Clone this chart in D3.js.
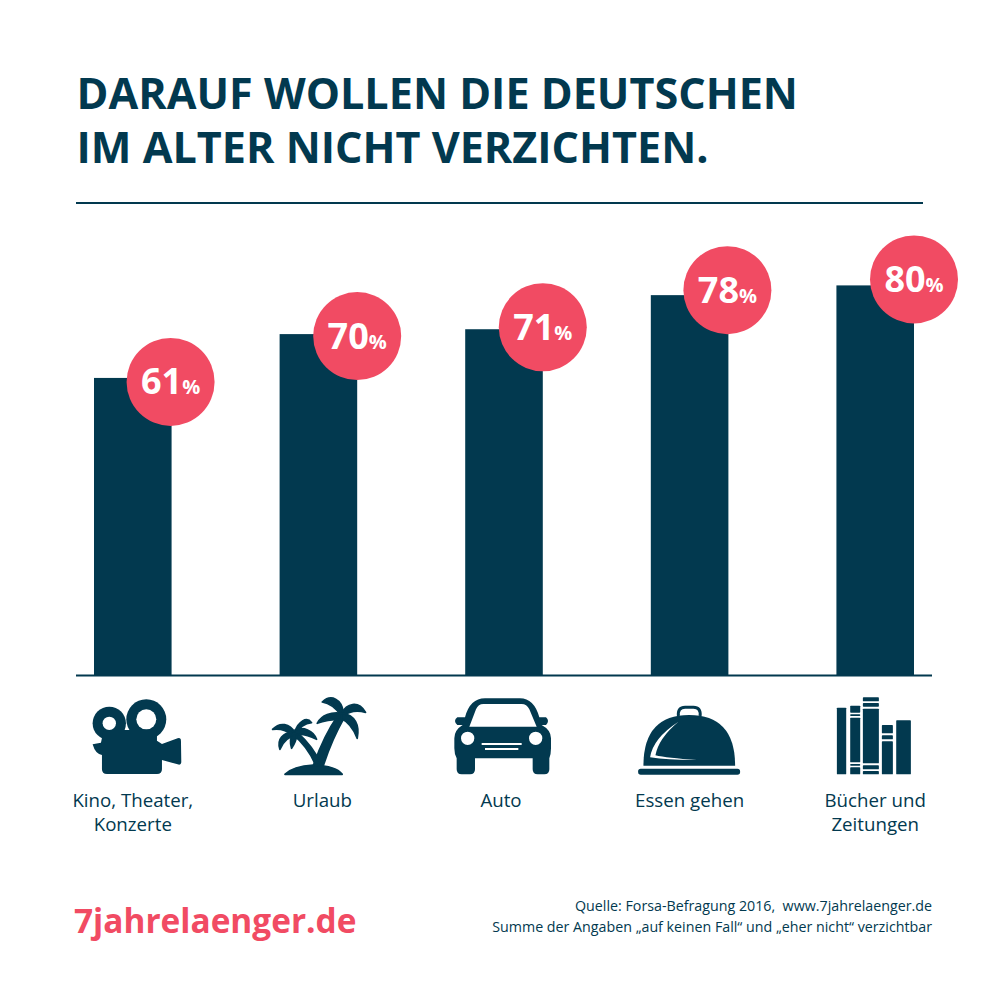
<!DOCTYPE html>
<html>
<head>
<meta charset="utf-8">
<script src="https://cdn.jsdelivr.net/npm/d3@7"></script>
<style>
  html, body { margin: 0; padding: 0; background: #fff; }
  svg { display: block; }
  text { font-family: "Open Sans", sans-serif; white-space: pre; }
</style>
</head>
<body>
<div id="chart"></div>
<script>
const categories = ["Kino, Theater, Konzerte", "Urlaub", "Auto", "Essen gehen", "Bücher und Zeitungen"]
const values = [61, 70, 71, 78, 80]
const labelLines = [["Kino, Theater,", "Konzerte"], ["Urlaub"], ["Auto"], ["Essen gehen"], ["Bücher und", "Zeitungen"]]
const titleLines = ["DARAUF WOLLEN DIE DEUTSCHEN", "IM ALTER NICHT VERZICHTEN."]
const sourceLines = ["Quelle: Forsa-Befragung 2016,  www.7jahrelaenger.de", "Summe der Angaben „auf keinen Fall“ und „eher nicht“ verzichtbar"]

const navy = "#02394f"
const red = "#f14b63"

const svg = d3.select("#chart").append("svg").attr("width", 1008).attr("height", 1008)

const x = d3.scaleBand().domain(categories).range([94, 914]).paddingInner(0.582).paddingOuter(0)
const y = d3.scaleLinear().domain([0, 100]).range([675, 188])

// title + rule
svg.selectAll(".title").data(titleLines).join("text")
    .attr("class", "title")
    .attr("x", 76.5)
    .attr("y", (d, i) => 109 + i * 54)
    .attr("font-size", 43.15)
    .attr("font-weight", 700)
    .attr("fill", navy)
    .text(d => d)
svg.append("rect").attr("x", 76).attr("y", 202).attr("width", 847).attr("height", 2).attr("fill", navy)

// bars
svg.selectAll(".bar").data(values).join("rect")
    .attr("class", "bar")
    .attr("x", (d, i) => x(categories[i]))
    .attr("y", d => y(d))
    .attr("width", x.bandwidth())
    .attr("height", d => y(0) - y(d))
    .attr("fill", navy)

svg.append("rect").attr("x", 76).attr("y", 674.5).attr("width", 856).attr("height", 2).attr("fill", navy)

// bubbles sit on the top right corner, a bit higher on the taller bars
const bubbleDx = [-1, 0, 0, -1, 0]
const bubbleDy = [4, 2, -2, -5, -6]
const bubble = svg.selectAll(".bubble").data(values).join("g")
    .attr("class", "bubble")
    .attr("transform", (d, i) => `translate(${x(categories[i]) + x.bandwidth() + bubbleDx[i]},${y(d) + bubbleDy[i]})`)
bubble.append("circle").attr("r", 44).attr("fill", red)
const bubbleText = bubble.append("text")
    .attr("text-anchor", "middle")
    .attr("y", 12.5)
    .attr("fill", "#fff")
    .attr("font-weight", 700)
bubbleText.append("tspan").attr("font-size", 36).text(d => d)
bubbleText.append("tspan").attr("font-size", 20).text("%")

// category labels
const labelDx = [0, 4, -3, 0, 0]
svg.selectAll(".label").data(labelLines).join("text")
    .attr("class", "label")
    .attr("text-anchor", "middle")
    .attr("font-size", 18.7)
    .attr("fill", navy)
    .each(function (lines, i) {
        d3.select(this).selectAll("tspan").data(lines).join("tspan")
            .attr("x", x(categories[i]) + x.bandwidth() / 2 + labelDx[i])
            .attr("y", (d, j) => 807 + j * 24)
            .text(d => d)
    })

// icons, traced at 3x so they are scaled down again here
const icon = (i, dx, dy) => svg.append("g")
    .attr("transform", `translate(${x(categories[i]) + x.bandwidth() / 2 + dx},${dy}) scale(${1 / 3})`)
    .attr("fill", navy)

// camera
const cam = icon(0, -72.5, 680)
cam.append("circle").attr("cx", 147).attr("cy", 130).attr("r", 50)
cam.append("circle").attr("cx", 258).attr("cy", 118).attr("r", 60)
cam.append("path").attr("d",
    "M97 193 L122 188 L130 150 L290 150 L290 182 L305 192 L352 175 Q362 172 362 183 L363 245 Q363 257 352 253 L305 240 L305 268 Q305 282 290 282 L140 282 Q125 282 125 268 L125 225 Q105 222 97 193 Z")
cam.append("circle").attr("cx", 147).attr("cy", 130).attr("r", 20).attr("fill", "#fff")
cam.append("circle").attr("cx", 258).attr("cy", 118).attr("r", 30).attr("fill", "#fff")

// palms
const palm = icon(1, -258.5, 680)
palm.selectAll("path").data([
    "M675 283 Q700 258 760 255 Q830 258 847 283 Z",
    "M760 258 Q790 170 835 105 L852 115 Q815 180 790 258 Z",
    "M768 258 Q745 200 695 160 L710 155 Q760 200 782 250 Z",
    "M842 105 C825 80 810 70 787 66 C815 40 845 60 850 95 Z",
    "M845 100 C860 70 895 60 917 97 C890 90 870 92 850 108 Z",
    "M848 100 C885 105 900 135 892 175 C880 145 865 125 842 115 Z",
    "M845 100 C815 95 785 105 772 130 C795 120 815 118 845 118 Z",
    "M705 155 C715 125 740 108 755 128 C735 130 720 140 712 160 Z",
    "M705 158 C690 130 660 125 638 148 C660 145 680 150 697 165 Z",
    "M705 150 C730 140 760 150 770 178 C745 165 725 160 705 165 Z",
    "M700 155 C670 160 650 175 660 208 C670 185 685 170 705 168 Z",
    "M700 160 C690 170 690 190 695 205 C705 190 710 175 712 162 Z"
]).join("path")
    .attr("d", d => d)
    .attr("stroke", navy).attr("stroke-width", 5).attr("stroke-linejoin", "round")

// car
const car = icon(2, -74, 680)
car.append("path").attr("fill-rule", "evenodd").attr("d",
    "M105 112 Q120 55 165 55 L270 55 Q312 55 328 112 L348 112 Q360 122 348 135 L335 135 Q363 150 363 175 L363 205 Q363 222 358 235 L358 268 Q358 283 343 283 L323 283 Q308 283 308 268 L308 235 L135 235 L135 268 Q135 283 120 283 L95 283 Q80 283 80 268 L80 235 Q73 222 73 205 L73 175 Q73 150 98 135 L82 135 Q68 122 82 112 Z" +
    "M118 140 L320 140 L298 88 Q290 72 275 72 L160 72 Q145 72 138 88 Z" +
    "M93 175 a20 20 0 1 0 40 0 a20 20 0 1 0 -40 0 Z M297 175 a20 20 0 1 0 40 0 a20 20 0 1 0 -40 0 Z" +
    "M155 189 h120 v6 h-120 Z M165 204 h100 v6 h-100 Z")

// cloche
const cloche = icon(3, -259.5, 680)
cloche.append("path").attr("fill", "none").attr("stroke", navy).attr("stroke-width", 9)
    .attr("d", "M745 108 Q742 82 765 82 L790 82 Q813 82 810 108")
cloche.append("path").attr("d", "M640 257 Q640 105 777 105 Q915 105 915 257 Z")
cloche.append("path").attr("fill", "#fff").attr("d", "M745 125 Q668 175 660 232 Q720 241 800 240 Q710 234 676 226 Q685 175 745 125 Z")
cloche.append("rect").attr("x", 624).attr("y", 266).attr("width", 306).attr("height", 18).attr("rx", 8)

// books
const books = icon(4, -95, 680)
books.selectAll("rect").data([
    [170, 83, 28, 200], [210, 77, 30, 21], [210, 103, 30, 5], [210, 113, 30, 134], [210, 252, 30, 5], [210, 262, 30, 21],
    [248, 52, 48, 12], [248, 69, 48, 11], [248, 86, 48, 164], [248, 256, 48, 12], [248, 273, 48, 10],
    [305, 135, 33, 25], [305, 166, 33, 12], [305, 184, 33, 99], [348, 121, 44, 162]
]).join("rect")
    .attr("x", d => d[0]).attr("y", d => d[1]).attr("width", d => d[2]).attr("height", d => d[3]).attr("rx", 2)

// footer
svg.append("text")
    .attr("x", 74).attr("y", 933)
    .attr("font-size", 33.4).attr("font-weight", 700)
    .attr("fill", red)
    .text("7jahrelaenger.de")
svg.selectAll(".source").data(sourceLines).join("text")
    .attr("class", "source")
    .attr("x", 932)
    .attr("y", (d, i) => 911 + i * 21)
    .attr("text-anchor", "end")
    .attr("font-size", 14.25)
    .attr("fill", navy)
    .text(d => d)
</script>
</body>
</html>
